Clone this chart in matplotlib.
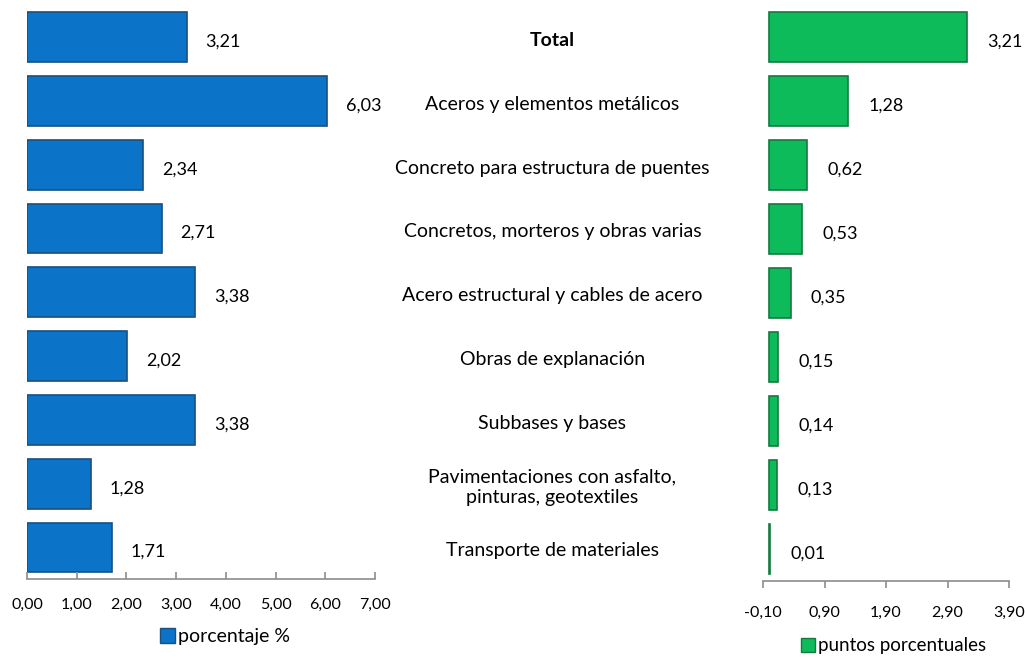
import matplotlib.pyplot as plt
from matplotlib.patches import Patch
import numpy as np

plt.rcParams['font.family'] = ['Lato', 'DejaVu Sans']

categorias = ["Total", "Aceros y elementos metálicos", "Concreto para estructura de puentes",
              "Concretos, morteros y obras varias", "Acero estructural y cables de acero",
              "Obras de explanación", "Subbases y bases",
              "Pavimentaciones con asfalto,\npinturas, geotextiles", "Transporte de materiales"]
porcentaje = [3.21, 6.03, 2.34, 2.71, 3.38, 2.02, 3.38, 1.28, 1.71]
puntos = [3.21, 1.28, 0.62, 0.53, 0.35, 0.15, 0.14, 0.13, 0.01]

ticks_izq = [0, 1, 2, 3, 4, 5, 6, 7]
ticks_der = [-0.10, 0.90, 1.90, 2.90, 3.90]

azul = "#0B74C9"
azul_borde = "#1A4F7F"
verde = "#0DBB5B"
verde_borde = "#137A3E"

def coma(v):
    return f"{v:.2f}".replace(".", ",")

fig = plt.figure(figsize=(10.25, 6.57), dpi=100)
ax1 = fig.add_axes([0.0263, 0.118, 0.3395, 0.874])
ax2 = fig.add_axes([0.7444, 0.116, 0.240, 0.876])

y = np.arange(len(categorias))

ax1.barh(y, porcentaje, height=0.78, color=azul, edgecolor=azul_borde, linewidth=1.2)
ax1.set_xlim(0, 7)
ax1.set_xticks(ticks_izq)
ax1.set_xticklabels([coma(t) for t in ticks_izq])
for yi, v in zip(y, porcentaje):
    ax1.text(v + 0.38, yi + 0.07, coma(v), ha="left", va="center", fontsize=13)

ax2.barh(y, puntos, height=0.78, color=verde, edgecolor=verde_borde, linewidth=1.2)
ax2.set_xlim(-0.10, 3.90)
ax2.set_xticks(ticks_der)
ax2.set_xticklabels([coma(t) for t in ticks_der])
for yi, v in zip(y, puntos):
    ax2.text(v + 0.33, yi + 0.07, coma(v), ha="left", va="center", fontsize=13)

for ax in (ax1, ax2):
    ax.set_ylim(len(categorias) - 0.5, -0.5)
    ax.set_yticks([])
    for s in ["top", "right", "left"]:
        ax.spines[s].set_visible(False)
    ax.spines["bottom"].set_color("#8C8C8C")
    ax.spines["bottom"].set_linewidth(1.2)
    ax.tick_params(axis="x", colors="#8C8C8C", labelcolor="black", labelsize=11.5,
                   length=5, width=1.2, pad=13)
ax1.tick_params(axis="x", direction="in")

# etiquetas de categorias en el centro
for yi, c in zip(y, categorias):
    peso = "bold" if c == "Total" else "normal"
    fig.text(0.539, 0.992 - (yi + 0.5) * 0.874 / 9 - 0.005, c, ha="center", va="center",
             fontsize=14, fontweight=peso, linespacing=1.3)

ax1.legend(handles=[Patch(facecolor=azul, edgecolor=azul_borde, label="porcentaje %")],
           loc="center", bbox_to_anchor=(0.569, -0.10), frameon=False, fontsize=14,
           handlelength=0.75, handleheight=0.75, handletextpad=0.15,
           borderpad=0, borderaxespad=0)
ax2.legend(handles=[Patch(facecolor=verde, edgecolor=verde_borde, label="puntos porcentuales")],
           loc="center", bbox_to_anchor=(0.53, -0.113), frameon=False, fontsize=13.5,
           handlelength=0.75, handleheight=0.75, handletextpad=0.15,
           borderpad=0, borderaxespad=0)

fig.savefig("out.png", dpi=100)
